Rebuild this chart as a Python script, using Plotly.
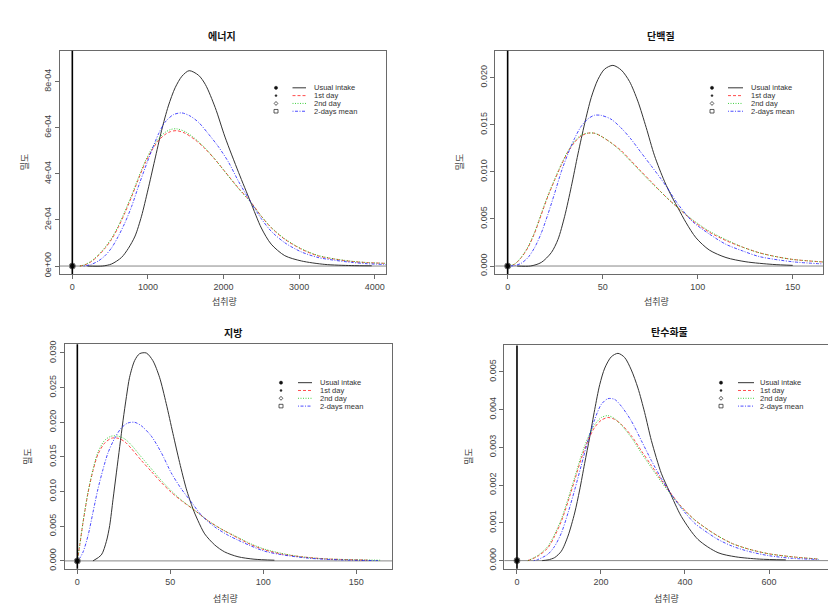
import plotly.graph_objects as go

W, H = 836, 607

# ---------------- DATA ----------------
panel_titles = ["에너지", "단백질", "지방", "탄수화물"]
x_label = "섭취량"
y_label = "밀도"
series_names = ["Usual intake", "1st day", "2nd day", "2-days mean"]

origin_x = [0]
origin_y = [0]

# Energy
energy_usual_x = [200, 400, 520, 650, 740, 830, 915, 1000, 1090, 1180, 1270, 1360, 1450, 1545, 1670, 1760, 1890, 2020, 2200, 2355, 2500, 2630, 2810, 3030, 3340, 3690, 3960]
energy_usual_y = [0, 0, 0.09e-4, 0.37e-4, 0.76e-4, 1.3e-4, 2.16e-4, 3.3e-4, 4.59e-4, 5.87e-4, 6.94e-4, 7.73e-4, 8.23e-4, 8.47e-4, 8.27e-4, 7.87e-4, 6.87e-4, 5.59e-4, 4.05e-4, 2.8e-4, 1.65e-4, 0.95e-4, 0.45e-4, 0.22e-4, 0.07e-4, 0.02e-4, 0.01e-4]
energy_d1_x = [100, 165, 250, 340, 430, 520, 605, 695, 785, 870, 960, 1050, 1140, 1225, 1300, 1380, 1490, 1625, 1755, 1890, 2020, 2200, 2355, 2500, 2630, 2810, 3030, 3250, 3470, 3690, 3900, 4200]
energy_d1_y = [0, 0.05e-4, 0.19e-4, 0.44e-4, 0.76e-4, 1.16e-4, 1.66e-4, 2.3e-4, 3.01e-4, 3.73e-4, 4.44e-4, 5.01e-4, 5.44e-4, 5.7e-4, 5.83e-4, 5.87e-4, 5.76e-4, 5.47e-4, 5.09e-4, 4.61e-4, 4.09e-4, 3.37e-4, 2.8e-4, 2.16e-4, 1.66e-4, 1.16e-4, 0.73e-4, 0.44e-4, 0.3e-4, 0.2e-4, 0.15e-4, 0.11e-4]
energy_d2_x = energy_d1_x
energy_d2_y = [0, 0.06e-4, 0.21e-4, 0.47e-4, 0.8e-4, 1.21e-4, 1.72e-4, 2.37e-4, 3.08e-4, 3.8e-4, 4.52e-4, 5.09e-4, 5.52e-4, 5.79e-4, 5.92e-4, 5.95e-4, 5.83e-4, 5.52e-4, 5.12e-4, 4.62e-4, 4.08e-4, 3.35e-4, 2.78e-4, 2.16e-4, 1.68e-4, 1.18e-4, 0.75e-4, 0.46e-4, 0.31e-4, 0.21e-4, 0.15e-4, 0.11e-4]
energy_mean_x = [150, 250, 340, 430, 520, 605, 695, 785, 870, 960, 1050, 1140, 1225, 1335, 1445, 1555, 1670, 1800, 1935, 2065, 2200, 2355, 2500, 2630, 2810, 3030, 3250, 3470, 3690, 3900, 4200]
energy_mean_y = [0, 0.07e-4, 0.21e-4, 0.44e-4, 0.79e-4, 1.27e-4, 1.87e-4, 2.59e-4, 3.41e-4, 4.23e-4, 5.01e-4, 5.73e-4, 6.23e-4, 6.56e-4, 6.64e-4, 6.51e-4, 6.23e-4, 5.73e-4, 5.16e-4, 4.51e-4, 3.66e-4, 2.8e-4, 2.05e-4, 1.51e-4, 1.01e-4, 0.61e-4, 0.37e-4, 0.25e-4, 0.16e-4, 0.1e-4, 0.06e-4]

# Protein
protein_usual_x = [5, 12, 17.7, 23, 26.5, 30, 33.5, 37, 40.5, 44, 47.5, 51, 55.4, 59.8, 64.1, 68.5, 72.9, 77.3, 82.5, 86.8, 89.8, 93.9, 99.1, 106.1, 114.9, 125.4, 139.5, 150]
protein_usual_y = [0, 0, 0.00038, 0.00143, 0.00283, 0.00528, 0.00843, 0.0119, 0.0151, 0.0179, 0.0198, 0.0209, 0.0213, 0.0208, 0.0196, 0.0175, 0.0147, 0.0117, 0.009, 0.0072, 0.0061, 0.0046, 0.003, 0.0017, 0.0009, 0.00045, 0.00017, 0.00007]
protein_d1_x = [0, 3.7, 7.2, 10.7, 14.2, 17.7, 21.2, 24.7, 28.2, 31.7, 35.1, 38.6, 42.1, 45.6, 49.0, 54.3, 59.5, 64.8, 70.0, 75.3, 80.5, 84.0, 89.5, 97.4, 106.1, 114.9, 123.7, 132.5, 141.2, 150, 168]
protein_d1_y = [0, 0.0002, 0.0009, 0.00196, 0.0035, 0.00545, 0.0074, 0.0091, 0.0107, 0.0121, 0.0131, 0.0138, 0.0141, 0.0141, 0.0138, 0.0131, 0.0123, 0.0112, 0.0101, 0.009, 0.0079, 0.0072, 0.0062, 0.0048, 0.0036, 0.0027, 0.002, 0.0014, 0.001, 0.0007, 0.0004]
protein_d2_x = protein_d1_x
protein_d2_y = [0, 0.00022, 0.00095, 0.00205, 0.0036, 0.0056, 0.0075, 0.0092, 0.0108, 0.0122, 0.0132, 0.0139, 0.0141, 0.0141, 0.0138, 0.0131, 0.0122, 0.0111, 0.0100, 0.0089, 0.0079, 0.0072, 0.0062, 0.0049, 0.0037, 0.0028, 0.002, 0.0014, 0.001, 0.0007, 0.0004]
protein_mean_x = [0, 3.7, 7.2, 10.7, 14.2, 17.7, 21.2, 24.7, 28.2, 31.7, 35.1, 38.6, 42.1, 45.6, 49.0, 54.3, 59.5, 64.8, 70.0, 75.3, 80.5, 84.0, 89.5, 97.4, 106.1, 114.9, 123.7, 132.5, 150, 168]
protein_mean_y = [0, 0.00005, 0.0003, 0.0009, 0.00196, 0.0035, 0.0055, 0.0077, 0.01, 0.0119, 0.0135, 0.0148, 0.0156, 0.016, 0.016, 0.0156, 0.0147, 0.0135, 0.0121, 0.0107, 0.0093, 0.0083, 0.0066, 0.0047, 0.0034, 0.0023, 0.0016, 0.001, 0.00045, 0.0002]

# Fat
fat_usual_x = [8.4, 12.9, 15.6, 17.4, 19.2, 21.0, 22.8, 24.6, 26.4, 28.1, 30.8, 33.5, 37.1, 40.6, 44.2, 47.8, 51.4, 55.0, 58.6, 62.2, 64.9, 68.5, 73.9, 79.2, 86.4, 95, 106]
fat_usual_y = [0, 0.00086, 0.0028, 0.0051, 0.0089, 0.0127, 0.0165, 0.0203, 0.0237, 0.0265, 0.0289, 0.0299, 0.03, 0.0289, 0.0265, 0.0227, 0.0184, 0.0142, 0.0104, 0.0075, 0.0058, 0.0039, 0.0023, 0.0013, 0.0006, 0.00025, 0.0001]
fat_d1_x = [0, 1.3, 3.1, 5.8, 8.4, 11.1, 14.7, 18.3, 21.9, 25.5, 29.1, 34.4, 39.8, 45.2, 50.5, 55.9, 63.1, 70.3, 77.4, 86.4, 93, 100.7, 109.7, 120.4, 133, 156]
fat_d1_y = [0, 0.0023, 0.0056, 0.0099, 0.013, 0.0154, 0.017, 0.0177, 0.0177, 0.0172, 0.0162, 0.0145, 0.0129, 0.0113, 0.0099, 0.0087, 0.0073, 0.0058, 0.0046, 0.0033, 0.0024, 0.0016, 0.001, 0.0006, 0.0003, 0.00012]
fat_d2_x = [0, 1.3, 3.1, 5.8, 8.4, 11.1, 14.7, 18.3, 21.9, 25.5, 29.1, 34.4, 39.8, 45.2, 50.5, 55.9, 63.1, 70.3, 77.4, 86.4, 93, 100.7, 109.7, 120.4, 133, 163]
fat_d2_y = [0, 0.0023, 0.0057, 0.01, 0.0132, 0.0157, 0.0174, 0.018, 0.018, 0.0176, 0.0167, 0.015, 0.0133, 0.0116, 0.0101, 0.0088, 0.0073, 0.0058, 0.0046, 0.0034, 0.0025, 0.0017, 0.0011, 0.0006, 0.0003, 0.0001]
fat_mean_x = [0, 1.3, 3.1, 5.8, 8.4, 11.1, 13.8, 16.5, 20.1, 23.7, 27.2, 30.8, 34.4, 39.8, 45.2, 50.5, 55.9, 61.3, 66.7, 73.9, 81.1, 86.4, 93, 100.7, 109.7, 124, 141.9, 161.6]
fat_mean_y = [0, 0.0004, 0.0013, 0.0037, 0.007, 0.0104, 0.0132, 0.0156, 0.0177, 0.0192, 0.0199, 0.02, 0.0195, 0.018, 0.0156, 0.0127, 0.0104, 0.0085, 0.0066, 0.0049, 0.0037, 0.003, 0.0022, 0.0014, 0.0009, 0.0004, 0.00014, 0.00005]

# Carbohydrate
carb_usual_x = [60, 74, 89.7, 105.6, 121.4, 137.3, 149.2, 161, 173, 185, 197, 209, 224.6, 240.5, 256.3, 272.2, 288, 304, 320, 344, 363.5, 391.3, 431, 478.6, 521, 577, 640]
carb_usual_y = [0, 0.00002, 0.00008, 0.00025, 0.00065, 0.00126, 0.00187, 0.00257, 0.00326, 0.004, 0.00466, 0.0051, 0.0054, 0.00549, 0.00538, 0.00505, 0.00457, 0.00392, 0.00318, 0.0023, 0.00182, 0.00117, 0.00056, 0.00021, 0.0001, 0.00004, 0.00002]
carb_d1_x = [26, 50, 73.8, 89.7, 105.6, 121.4, 137.3, 153, 169, 185, 200.8, 216.7, 232.5, 248.4, 272.2, 296, 320, 344, 363.5, 391.3, 423, 454.8, 478.6, 513, 553, 600, 656, 719]
carb_d1_y = [0, 0.00012, 0.00034, 0.00065, 0.00104, 0.00156, 0.00213, 0.0027, 0.00318, 0.00353, 0.00372, 0.00379, 0.00374, 0.00361, 0.00331, 0.00291, 0.00252, 0.00213, 0.00182, 0.00143, 0.00108, 0.00082, 0.00065, 0.00045, 0.0003, 0.00018, 0.0001, 0.00004]
carb_d2_x = carb_d1_x
carb_d2_y = [0, 0.00014, 0.00038, 0.0007, 0.0011, 0.00163, 0.0022, 0.00278, 0.00326, 0.0036, 0.00379, 0.00384, 0.00376, 0.00359, 0.00326, 0.00285, 0.00246, 0.00208, 0.00179, 0.00142, 0.00108, 0.00082, 0.00065, 0.00045, 0.0003, 0.00018, 0.0001, 0.00004]
carb_mean_x = [40, 50, 73.8, 89.7, 105.6, 121.4, 137.3, 153, 169, 185, 200.8, 216.7, 232.5, 248.4, 272.2, 296, 320, 344, 363.5, 391.3, 423, 454.8, 478.6, 513, 553, 600, 656, 719]
carb_mean_y = [0, 0.00003, 0.00017, 0.00038, 0.00073, 0.00126, 0.00187, 0.00252, 0.00318, 0.00374, 0.00414, 0.00429, 0.00427, 0.00409, 0.0037, 0.00318, 0.00265, 0.00217, 0.00182, 0.00139, 0.00099, 0.00073, 0.00056, 0.00038, 0.00024, 0.00013, 0.00006, 0.00003]

# tick values / labels
energy_xticks = [0, 1000, 2000, 3000, 4000]
energy_yticks = [0, 2e-4, 4e-4, 6e-4, 8e-4]
energy_yticklabels = ["0e+00", "2e-04", "4e-04", "6e-04", "8e-04"]
protein_xticks = [0, 50, 100, 150]
protein_yticks = [0, 0.005, 0.010, 0.015, 0.020]
protein_yticklabels = ["0.000", "0.005", "0.010", "0.015", "0.020"]
fat_xticks = [0, 50, 100, 150]
fat_yticks = [0, 0.005, 0.010, 0.015, 0.020, 0.025, 0.030]
fat_yticklabels = ["0.000", "0.005", "0.010", "0.015", "0.020", "0.025", "0.030"]
carb_xticks = [0, 200, 400, 600]
carb_yticks = [0, 0.001, 0.002, 0.003, 0.004, 0.005]
carb_yticklabels = ["0.000", "0.001", "0.002", "0.003", "0.004", "0.005"]

# ---------------- LAYOUT GEOMETRY (pixels) ----------------
ROW_GAP = 7.9
panels = [
    dict(box=(51.7, 378.3, 39.3, 265.0), xr=(-167, 4153), yr=(-0.343e-4, 9.33e-4),
         title_xy=(214, 24), xlab_xy=(216, 293), ylab_xy=(16, 152),
         leg=dict(sym=268, l0=284.5, l1=298, tx=305, top=76.7),
         series=[(energy_usual_x, energy_usual_y), (energy_d1_x, energy_d1_y),
                 (energy_d2_x, energy_d2_y), (energy_mean_x, energy_mean_y)],
         xt=energy_xticks, yt=energy_yticks, ytl=energy_yticklabels),
    dict(box=(487.3, 815.3, 39.3, 265.0), xr=(-6.5, 166.1), yr=(-0.00084, 0.02284),
         title_xy=(653, 24), xlab_xy=(648, 293), ylab_xy=(451, 152),
         leg=dict(sym=704, l0=720, l1=735, tx=742, top=76.7),
         series=[(protein_usual_x, protein_usual_y), (protein_d1_x, protein_d1_y),
                 (protein_d2_x, protein_d2_y), (protein_mean_x, protein_mean_y)],
         xt=protein_xticks, yt=protein_yticks, ytl=protein_yticklabels),
    dict(box=(56.7, 384.3, 336.0, 563.3), xr=(-6.8, 169.4), yr=(-0.00114, 0.03128),
         title_xy=(225, 324), xlab_xy=(218, 593), ylab_xy=(20, 450),
         leg=dict(sym=273, l0=290, l1=304, tx=311, top=375),
         series=[(fat_usual_x, fat_usual_y), (fat_d1_x, fat_d1_y),
                 (fat_d2_x, fat_d2_y), (fat_mean_x, fat_mean_y)],
         xt=fat_xticks, yt=fat_yticks, ytl=fat_yticklabels),
    dict(box=(496.3, 824.0, 337.3, 563.3), xr=(-30.2, 750), yr=(-0.000217, 0.0057),
         title_xy=(661, 323), xlab_xy=(658, 593), ylab_xy=(461, 450),
         leg=dict(sym=713, l0=730, l1=746, tx=751, top=375),
         series=[(carb_usual_x, carb_usual_y), (carb_d1_x, carb_d1_y),
                 (carb_d2_x, carb_d2_y), (carb_mean_x, carb_mean_y)],
         xt=carb_xticks, yt=carb_yticks, ytl=carb_yticklabels),
]

def px(x):
    return x / W

def py(y):
    return 1 - y / H

styles = [
    dict(color="#2a2a2a", dash="solid", op=0.95),
    dict(color="#FF0000", dash="3px,2px", op=0.7),
    dict(color="#00C000", dash="1px,1.5px", op=0.75),
    dict(color="#0000FF", dash="1px,1.5px,3px,1.5px", op=0.7),
]

LAT = "Liberation Sans, Arial, sans-serif"
KR = "Noto Sans CJK KR, sans-serif"

fig = go.Figure()
shapes = []
annotations = []
layout = dict(width=W, height=H, margin=dict(l=0, r=0, t=0, b=0),
              paper_bgcolor="white", plot_bgcolor="white", showlegend=False)

for i, p in enumerate(panels):
    n = i + 1
    xa = "x" if n == 1 else f"x{n}"
    ya = "y" if n == 1 else f"y{n}"
    l, r, t, b = p["box"]
    axcommon = dict(showgrid=False, zeroline=False, showline=True, mirror=True,
                    linecolor="#6a6a6a", linewidth=1, ticks="outside", ticklen=4,
                    tickcolor="#6a6a6a", tickwidth=1,
                    tickfont=dict(family=LAT, size=9, color="#444444"))
    layout[f"xaxis{'' if n == 1 else n}"] = dict(
        domain=[px(l), px(r)], range=list(p["xr"]), anchor=ya,
        tickvals=p["xt"], ticktext=[str(v) for v in p["xt"]], **axcommon)
    layout[f"yaxis{'' if n == 1 else n}"] = dict(
        domain=[py(b), py(t)], range=list(p["yr"]), anchor=xa,
        tickvals=p["yt"], ticktext=p["ytl"], tickangle=-90, **axcommon)

    # reference lines
    shapes.append(dict(type="line", xref=f"{xa} domain", yref=ya, x0=0, x1=1, y0=0, y1=0,
                       line=dict(color="#888888", width=1), layer="below"))
    shapes.append(dict(type="line", xref=xa, yref=f"{ya} domain", x0=0, x1=0, y0=0, y1=1,
                       line=dict(color="#000000", width=1.6), layer="above"))

    for (sx, sy), st, name in zip(p["series"], styles, series_names):
        fig.add_trace(go.Scatter(x=sx, y=sy, mode="lines", name=name, xaxis=xa, yaxis=ya,
                                 line=dict(color=st["color"], dash=st["dash"], width=1,
                                           shape="spline", smoothing=0.8),
                                 opacity=st["op"], hoverinfo="skip"))
    fig.add_trace(go.Scatter(x=origin_x, y=origin_y, mode="markers", xaxis=xa, yaxis=ya,
                             marker=dict(size=6, color="#111111", line=dict(color="#777777", width=1)),
                             hoverinfo="skip", cliponaxis=False))

    # titles
    tx, ty = p["title_xy"]
    annotations.append(dict(text="<b>" + panel_titles[i] + "</b>", x=px(tx), y=py(ty),
                            xref="paper", yref="paper", showarrow=False,
                            font=dict(family=KR, size=10, color="#111111"),
                            xanchor="center", yanchor="middle"))
    lx, ly = p["xlab_xy"]
    annotations.append(dict(text=x_label, x=px(lx), y=py(ly), xref="paper", yref="paper",
                            showarrow=False, font=dict(family=KR, size=9, color="#444444"),
                            xanchor="center", yanchor="middle"))
    yx, yy = p["ylab_xy"]
    annotations.append(dict(text=y_label, x=px(yx), y=py(yy), xref="paper", yref="paper",
                            showarrow=False, textangle=-90,
                            font=dict(family=KR, size=9, color="#444444"),
                            xanchor="center", yanchor="middle"))

    # manual legend (R style: symbol column, line sample, label)
    lg = p["leg"]
    rows = [lg["top"] + k * ROW_GAP for k in range(4)]
    for k, (row, st, name) in enumerate(zip(rows, styles, series_names)):
        shapes.append(dict(type="line", xref="paper", yref="paper",
                           x0=px(lg["l0"]), x1=px(lg["l1"]), y0=py(row), y1=py(row),
                           opacity=st["op"],
                           line=dict(color=st["color"], dash=st["dash"], width=1)))
        annotations.append(dict(text=name, x=px(lg["tx"]), y=py(row), xref="paper", yref="paper",
                                showarrow=False, xanchor="left", yanchor="middle", borderpad=0,
                                font=dict(family=LAT, size=7.5, color="#333333")))
        s = lg["sym"]
        if k == 0:
            shapes.append(dict(type="circle", xref="paper", yref="paper",
                               x0=px(s - 1.6), x1=px(s + 1.6), y0=py(row + 1.6), y1=py(row - 1.6),
                               fillcolor="#111111", line=dict(color="#111111", width=0.5)))
        elif k == 1:
            shapes.append(dict(type="circle", xref="paper", yref="paper",
                               x0=px(s - 1.0), x1=px(s + 1.0), y0=py(row + 1.0), y1=py(row - 1.0),
                               fillcolor="#222222", line=dict(color="#222222", width=0.5)))
        elif k == 2:
            shapes.append(dict(type="path", xref="paper", yref="paper",
                               path=f"M {px(s)} {py(row - 2)} L {px(s + 1.8)} {py(row)} L {px(s)} {py(row + 2)} L {px(s - 1.8)} {py(row)} Z",
                               line=dict(color="#333333", width=0.8)))
        else:
            shapes.append(dict(type="rect", xref="paper", yref="paper",
                               x0=px(s - 2), x1=px(s + 2), y0=py(row + 1.8), y1=py(row - 1.8),
                               line=dict(color="#333333", width=0.8)))

layout["shapes"] = shapes
layout["annotations"] = annotations
fig.update_layout(**layout)
fig.write_html("out.html")
